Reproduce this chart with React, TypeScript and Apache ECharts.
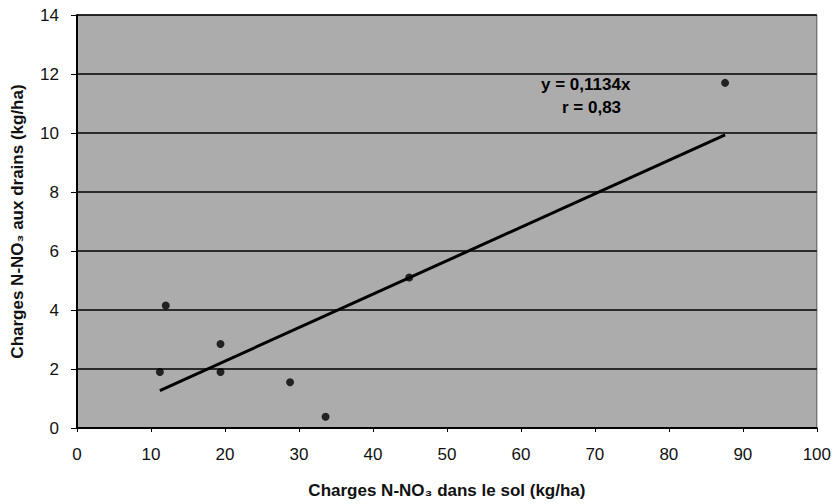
import React, { useEffect, useRef } from "react";
import * as echarts from "echarts";

const soilLoads = [11.2, 12.0, 19.4, 19.4, 28.8, 33.6, 44.9, 87.6];
const drainLoads = [1.9, 4.15, 2.85, 1.9, 1.55, 0.38, 5.1, 11.7];
const slope = 0.1134;
const trendXRange = [11.2, 87.6];
const equationLines = ["y = 0,1134x", "r = 0,83"];

export default function App() {
  const ref = useRef<HTMLDivElement>(null);
  useEffect(() => {
    const chart = echarts.init(ref.current!, null, { renderer: "svg" });
    const font = "Liberation Sans, Arial, sans-serif";
    chart.setOption({
      animation: false,
      backgroundColor: "#ffffff",
      grid: {
        left: 77,
        right: 16,
        top: 15,
        bottom: 72,
        show: true,
        backgroundColor: "#acacac",
        borderColor: "#555",
        borderWidth: 1,
      },
      xAxis: {
        type: "value",
        min: 0,
        max: 100,
        interval: 10,
        name: "Charges N-NO₃ dans le sol (kg/ha)",
        nameLocation: "middle",
        nameGap: 54,
        nameTextStyle: { fontFamily: font, fontWeight: "bold", fontSize: 17, color: "#111" },
        axisLine: { show: true, lineStyle: { color: "#000", width: 2 } },
        axisTick: { show: true, length: 4, lineStyle: { color: "#000" } },
        axisLabel: { fontFamily: font, fontSize: 17, color: "#111", margin: 18 },
        splitLine: { show: false },
      },
      yAxis: {
        type: "value",
        min: 0,
        max: 14,
        interval: 2,
        name: "Charges N-NO₃ aux drains (kg/ha)",
        nameLocation: "middle",
        nameGap: 51,
        nameTextStyle: { fontFamily: font, fontWeight: "bold", fontSize: 17, color: "#111" },
        axisLine: { show: true, lineStyle: { color: "#000", width: 2 } },
        axisTick: { show: true, length: 6, lineStyle: { color: "#000" } },
        axisLabel: { fontFamily: font, fontSize: 17, color: "#111", margin: 18 },
        splitLine: { show: true, lineStyle: { color: "#000", width: 1.5 } },
      },
      series: [
        {
          type: "line",
          data: trendXRange.map((x) => [x, slope * x]),
          symbol: "none",
          lineStyle: { color: "#000", width: 3 },
          z: 3,
        },
        {
          type: "scatter",
          data: soilLoads.map((x, i) => [x, drainLoads[i]]),
          symbol: "circle",
          symbolSize: 8,
          itemStyle: { color: "#000" },
          z: 4,
        },
      ],
      graphic: [
        {
          type: "text",
          left: 541,
          top: 76,
          style: { text: equationLines[0], fontFamily: font, fontWeight: "bold", fontSize: 17, fill: "#000" },
        },
        {
          type: "text",
          left: 562,
          top: 99,
          style: { text: equationLines[1], fontFamily: font, fontWeight: "bold", fontSize: 17, fill: "#000" },
        },
      ],
    });
    return () => chart.dispose();
  }, []);
  return <div ref={ref} style={{ width: 834, height: 504, position: "absolute", left: 0, top: 0 }} />;
}
